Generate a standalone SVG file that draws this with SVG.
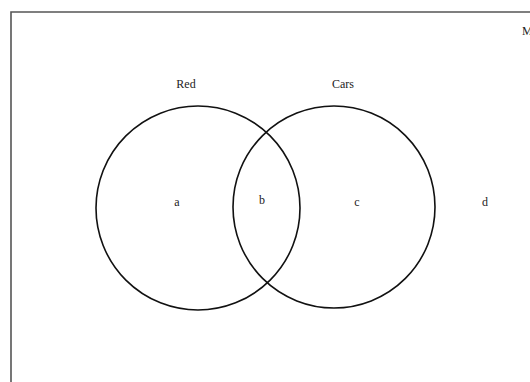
<svg xmlns="http://www.w3.org/2000/svg" width="530" height="382" viewBox="0 0 530 382">
<style>
.t{font-family:"Liberation Serif","DejaVu Serif",serif;font-size:12px;fill:#222;text-anchor:middle}
.c{fill:none;stroke:#111;stroke-width:1.6}
</style>
<rect width="530" height="382" fill="#fff"/>
<path d="M11 382 V12 H532" fill="none" stroke="#555" stroke-width="1.6"/>
<g id="setRed"><circle class="c" cx="198" cy="208" r="102"/><text class="t" x="186" y="88">Red</text></g>
<g id="setCars"><circle class="c" cx="334" cy="207" r="101"/><text class="t" x="343" y="88">Cars</text></g>
<g id="a"><text class="t" x="177" y="206">a</text></g>
<g id="b"><text class="t" x="262" y="204">b</text></g>
<g id="c"><text class="t" x="357" y="206">c</text></g>
<g id="d"><text class="t" x="485" y="206">d</text></g>
<g id="m"><text class="t" x="522" y="35" style="text-anchor:start">M</text></g>
<g id="connectors"/>
</svg>
